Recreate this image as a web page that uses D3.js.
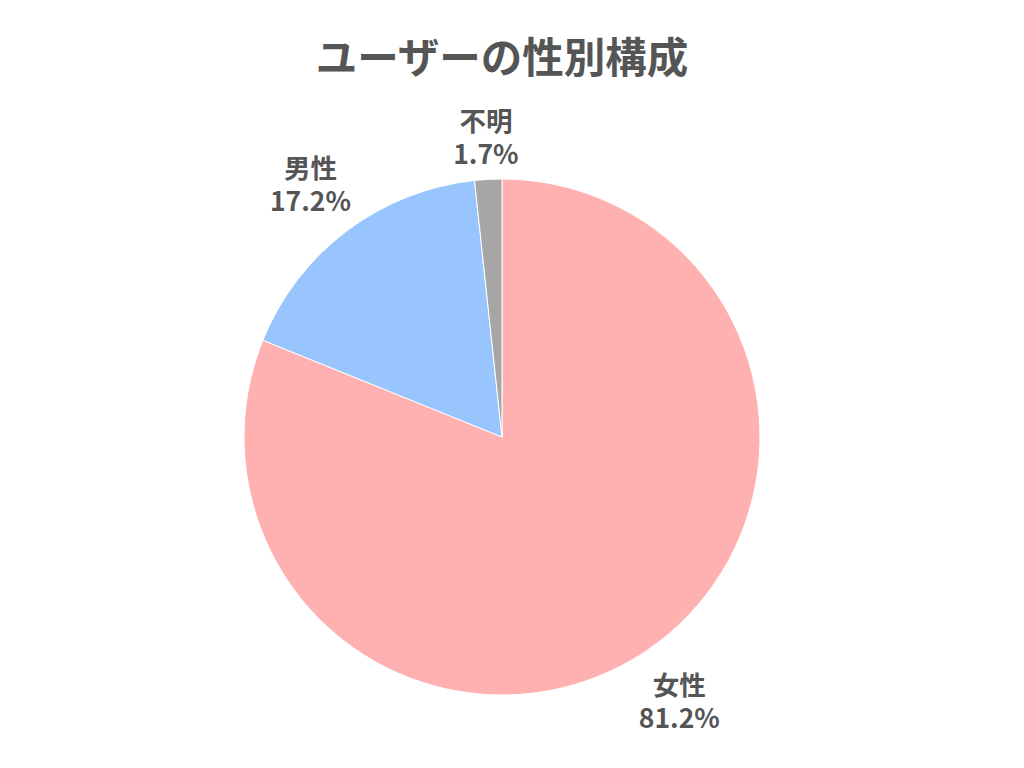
<!DOCTYPE html>
<html><head><meta charset="utf-8">
<script src="https://cdn.jsdelivr.net/npm/d3@7"></script>
<style>
html,body{margin:0;padding:0;background:#fff;}
text{font-family:"Noto Sans CJK JP","Noto Sans",sans-serif;font-weight:bold;fill:#555;}
</style></head>
<body>
<svg id="chart" width="1024" height="768"></svg>
<script>
const title = "ユーザーの性別構成";
const categories = ["女性", "男性", "不明"];
const values = [81.2, 17.2, 1.7];
const colors = ["#FFB0B0", "#99C5FF", "#A6A6A6"];

const W = 1024, H = 768;
const cx = 502, cy = 437, R = 258;
const svg = d3.select("#chart");

svg.append("text").attr("x", cx).attr("y", 55).attr("text-anchor", "middle")
  .attr("dominant-baseline", "central").style("font-size", "41.5px").text(title);

const data = categories.map((c, i) => ({ label: c, value: values[i], color: colors[i] }));
const pie = d3.pie().value(d => d.value).sort(null);
const arcs = pie(data);
const arc = d3.arc().innerRadius(0).outerRadius(R);

const g = svg.append("g").attr("transform", `translate(${cx},${cy})`);
g.selectAll("path").data(arcs).join("path")
  .attr("d", arc).attr("fill", d => d.data.color)
  .attr("stroke", "#fff").attr("stroke-width", 1);

const gap = 7, lineH = 33, fs = 26.5;
arcs.forEach(a => {
  const mid = (a.startAngle + a.endAngle) / 2;
  const dx = Math.sin(mid), dy = -Math.cos(mid);
  const t = g.append("text").style("font-size", fs + "px").attr("text-anchor", "middle");
  t.append("tspan").attr("x", 0).attr("dy", 0).text(a.data.label);
  t.append("tspan").attr("x", 0).attr("dy", lineH).text(a.data.value.toFixed(1) + "%");
  const bb = t.node().getBBox();
  const bw = bb.width, bh = bb.height;
  const ocx = bb.x + bw / 2, ocy = bb.y + bh / 2;
  function nearest(d) {
    const x0 = dx * d - bw / 2, x1 = dx * d + bw / 2, y0 = dy * d - bh / 2, y1 = dy * d + bh / 2;
    const nx = Math.max(x0, Math.min(0, x1)), ny = Math.max(y0, Math.min(0, y1));
    return Math.hypot(nx, ny);
  }
  let lo = 0, hi = 1000;
  for (let k = 0; k < 60; k++) { const m = (lo + hi) / 2; if (nearest(m) < R + gap) lo = m; else hi = m; }
  t.attr("transform", `translate(${dx * lo - ocx},${dy * lo - ocy})`);
});
</script>
</body></html>
